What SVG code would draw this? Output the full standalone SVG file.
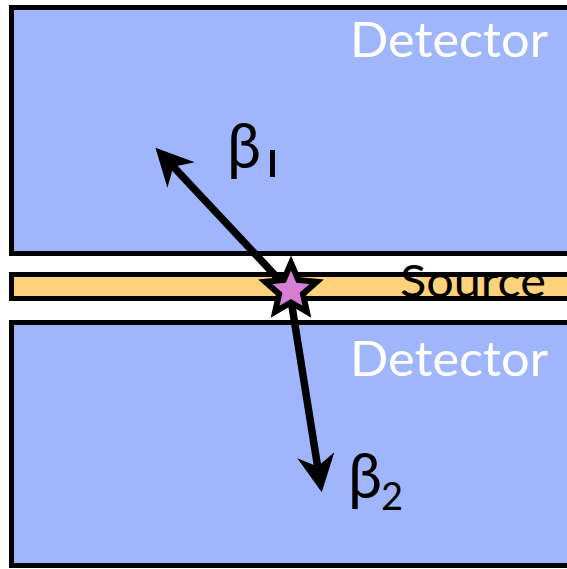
<svg xmlns="http://www.w3.org/2000/svg" width="567" height="569" viewBox="0 0 567 569">
<style>
.det{fill:#9fb6fd;stroke:#000;stroke-width:5}
.src{fill:#fdd27b;stroke:#000;stroke-width:5}
.lbl{font-family:Lato,"Open Sans",sans-serif;}
.w{fill:#fff;font-size:48px}
.k{fill:#000}
.arr{stroke:#000;stroke-width:7.5;fill:none}
</style>
<defs>
<marker id="ah" viewBox="0 0 10 10" refX="3" refY="5" markerWidth="5.2" markerHeight="5" orient="auto" markerUnits="strokeWidth">
<path d="M0,0 L10,5 L0,10 L3,5 Z" fill="#000"/>
</marker>
</defs>
<rect width="567" height="569" fill="#fff"/>
<g id="detector-top">
<rect class="det" x="11.5" y="7.5" width="570" height="246"/>
<text class="lbl w" x="350" y="57" textLength="198" lengthAdjust="spacingAndGlyphs">Detector</text>
</g>
<g id="source">
<rect class="src" x="11.5" y="274.5" width="570" height="24"/>
<text class="lbl k" x="400" y="297" font-size="45" textLength="146" lengthAdjust="spacingAndGlyphs">Source</text>
</g>
<g id="detector-bottom">
<rect class="det" x="11.5" y="322.5" width="570" height="243"/>
<text class="lbl w" x="350" y="376" textLength="198" lengthAdjust="spacingAndGlyphs">Detector</text>
</g>
<g id="connectors">
<line class="arr" x1="287" y1="288" x2="173.4" y2="166.8" marker-end="url(#ah)"/>
<line class="arr" x1="291" y1="300" x2="317.6" y2="466.4" marker-end="url(#ah)"/>
</g>
<g id="star">
<polygon points="291,263 298.3,279.9 316.7,281.7 302.9,293.9 306.9,311.8 291,302.5 275.1,311.8 279.1,293.9 265.3,281.7 283.7,279.9" fill="#d77fd5" stroke="#000" stroke-width="6" stroke-linejoin="miter"/>
</g>
<g id="beta1">
<text class="lbl k" x="227" y="168" font-size="61">β</text>
<rect x="270" y="150" width="5" height="27" fill="#000"/>
</g>
<g id="beta2">
<text class="lbl k" x="348" y="498" font-size="61">β</text>
<text class="lbl k" x="381" y="510" font-size="38">2</text>
</g>
</svg>
